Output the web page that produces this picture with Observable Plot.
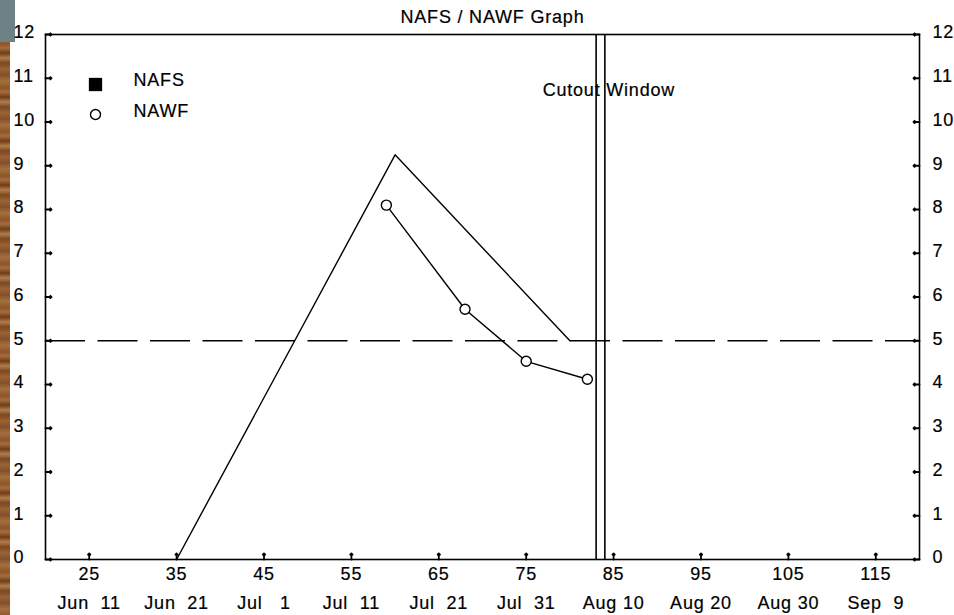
<!DOCTYPE html>
<html>
<head>
<meta charset="utf-8">
<script src="https://cdn.jsdelivr.net/npm/d3@7"></script>
<script src="https://cdn.jsdelivr.net/npm/@observablehq/plot@0.6"></script>
<style>
  html, body { margin: 0; padding: 0; background: white; overflow: hidden; }
  #wrap { position: relative; width: 954px; height: 615px; }
  #wood { position: absolute; left: 0; top: 0; width: 10px; height: 615px; z-index: 0;
    background: repeating-linear-gradient(180deg, #8d5629 0px, #a86c3c 4px, #6e3e1a 9px, #b27c4a 14px, #7c4822 19px, #9a6234 25px, #83502a 31px, #a4703f 37px, #8d5629 44px); }
  #corner { position: absolute; left: 0; top: 0; width: 15px; height: 42px; z-index: 0; background: #6d8286; }
  #chart { position: absolute; left: 0; top: 0; z-index: 1; }
</style>
</head>
<body>
<div id="wrap"><div id="wood"></div><div id="corner"></div><div id="chart"></div></div>
<script>
const title = "NAFS / NAWF Graph";
const cutoutLabel = "Cutout Window";
const xTicks = [25, 35, 45, 55, 65, 75, 85, 95, 105, 115];
const dateLabels = ["Jun\u00a0\u00a011", "Jun\u00a0\u00a021", "Jul\u00a0\u00a0\u00a01", "Jul\u00a0\u00a011", "Jul\u00a0\u00a021", "Jul\u00a0\u00a031", "Aug\u00a010", "Aug\u00a020", "Aug\u00a030", "Sep\u00a0\u00a09"];
const yTicks = [0, 1, 2, 3, 4, 5, 6, 7, 8, 9, 10, 11, 12];
const nafsX = [35, 60, 80];
const nafsY = [0, 9.25, 5];
const nawfX = [59, 68, 75, 82];
const nawfY = [8.1, 5.72, 4.53, 4.12];
const threshold = 5;
const cutout = [83, 84];
const seriesNames = ["NAFS", "NAWF"];

const nafs = nafsX.map((x, i) => ({x, y: nafsY[i]}));
const nawf = nawfX.map((x, i) => ({x, y: nawfY[i]}));
const dateByTick = new Map(xTicks.map((t, i) => [t, dateLabels[i]]));

const font = "'Liberation Sans', Arial, sans-serif";
const fs = 18;
const tickStyle = {length: 6, anchor: "start", stroke: "black", strokeWidth: 1.8};
const axisText = {fontSize: fs, label: null, textStroke: "black", textStrokeWidth: 0.2};
const markText = {fontSize: fs, stroke: "black", strokeWidth: 0.2, fill: "black"};

const chart = Plot.plot({
  width: 954,
  height: 615,
  marginLeft: 45,
  marginRight: 35,
  marginTop: 34,
  marginBottom: 56,
  x: {domain: [20, 120], axis: null},
  y: {domain: [0, 12], axis: null},
  style: {background: "transparent", fontFamily: font, fontSize: fs + "px", letterSpacing: "0.8px", color: "black"},
  marks: [
    Plot.ruleY([threshold], {stroke: "black", strokeWidth: 1.6, strokeDasharray: "40,12.5"}),
    Plot.ruleX(cutout, {stroke: "black", strokeWidth: 1.6}),
    Plot.line(nafs, {x: "x", y: "y", stroke: "black", strokeWidth: 1.4}),
    Plot.line(nawf, {x: "x", y: "y", stroke: "black", strokeWidth: 1.4}),
    Plot.dot(nawf, {x: "x", y: "y", r: 5, fill: "white", stroke: "black", strokeWidth: 1.4}),
    Plot.frame({stroke: "black", strokeWidth: 1.6}),
    Plot.vector(yTicks, {y: (d) => d, frameAnchor: "left", rotate: 90, ...tickStyle}),
    Plot.vector(yTicks, {y: (d) => d, frameAnchor: "right", rotate: -90, ...tickStyle}),
    Plot.vector(xTicks, {x: (d) => d, frameAnchor: "bottom", rotate: 0, ...tickStyle}),
    Plot.axisY(yTicks, {anchor: "left", tickSize: 0, tickPadding: 32, textAnchor: "start", dy: -2, ...axisText}),
    Plot.axisY(yTicks, {anchor: "right", tickSize: 0, tickPadding: 13, textAnchor: "start", dy: -2, ...axisText}),
    Plot.axisX(xTicks, {anchor: "bottom", tickSize: 0, tickPadding: 8, ...axisText}),
    Plot.axisX(xTicks, {anchor: "bottom", tickSize: 0, tickPadding: 37, ...axisText, tickFormat: (d) => dateByTick.get(d)}),
    Plot.text([title], {frameAnchor: "top", dx: 10, dy: -17, lineAnchor: "middle", ...markText}),
    Plot.text([cutoutLabel], {x: cutout[1], frameAnchor: "top", dy: 56, dx: 4, lineAnchor: "middle", ...markText}),
    Plot.dot([seriesNames[0]], {frameAnchor: "top-left", dx: 50, dy: 50, symbol: "square", r: 7.5, fill: "black"}),
    Plot.dot([seriesNames[1]], {frameAnchor: "top-left", dx: 50, dy: 80, r: 5, fill: "white", stroke: "black", strokeWidth: 1.4}),
    Plot.text([seriesNames[0]], {frameAnchor: "top-left", dx: 88, dy: 46, textAnchor: "start", lineAnchor: "middle", ...markText}),
    Plot.text([seriesNames[1]], {frameAnchor: "top-left", dx: 88, dy: 77, textAnchor: "start", lineAnchor: "middle", ...markText})
  ]
});
document.getElementById("chart").appendChild(chart);
</script>
</body>
</html>
